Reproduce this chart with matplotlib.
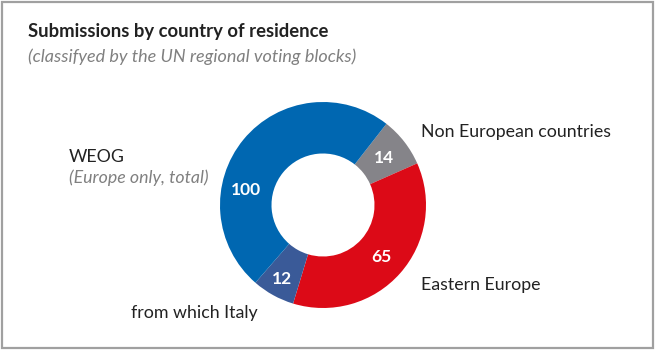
import numpy as np
import matplotlib
matplotlib.use("Agg")
import matplotlib.pyplot as plt
from matplotlib.patches import Rectangle

plt.rcParams["font.family"] = ["Lato", "DejaVu Sans"]

# data (counts of submissions)
weog_total = 100          # WEOG, Europe only, incl. Italy
italy = 12                # from which Italy
eastern = 65
non_eu = 14

values = [non_eu, eastern, italy, weog_total - italy]
colors = ["#858489", "#DC0A17", "#3A5A98", "#0067B1"]
shown = [str(non_eu), str(eastern), str(italy), str(weog_total)]

W, H = 656, 350
fig = plt.figure(figsize=(W / 100, H / 100), dpi=100)

def px(x, y):
    return x / W, 1 - y / H

# frame
fig.patches.append(Rectangle((2 / W, 2 / H), 1 - 5 / W, 1 - 4 / H,
                             transform=fig.transFigure, fill=False,
                             edgecolor="#a0a0a0", linewidth=1.6))

fig.text(*px(28, 32), "Submissions by country of residence", fontsize=13.3,
         fontweight="bold", color="#222222", va="center", ha="left")
fig.text(*px(28, 57), "(classifyed by the UN regional voting blocks)",
         fontsize=13, style="italic", color="#808080", va="center", ha="left")

cx, cy, r = 323, 205, 103
ax = fig.add_axes([(cx - r) / W, (H - cy - r) / H, 2 * r / W, 2 * r / H])
start = 52
wedges, _ = ax.pie(values, colors=colors, startangle=start, counterclock=False,
                   radius=1, wedgeprops=dict(width=0.5, linewidth=0))
ax.set_xlim(-1, 1)
ax.set_ylim(-1, 1)
ax.set_axis_off()

# value labels inside the ring
dist = [0.75, 0.76, 0.82, 0.76]
for i, w in enumerate(wedges):
    ang = np.deg2rad((w.theta1 + w.theta2) / 2)
    if i == 3:
        ang = np.deg2rad(169)
    ax.text(dist[i] * np.cos(ang), dist[i] * np.sin(ang), shown[i],
            color="white", fontsize=12.5, fontweight="bold",
            ha="center", va="center")

lab = dict(fontsize=12.8, color="#222222", va="center", ha="left")
fig.text(*px(69, 157), "WEOG", **lab)
fig.text(*px(69, 178), "(Europe only, total)", fontsize=12.8, style="italic",
         color="#808080", va="center", ha="left")
fig.text(*px(421, 132), "Non European countries", **lab)
fig.text(*px(421, 285), "Eastern Europe", **lab)
fig.text(*px(131, 313), "from which Italy", **lab)

fig.savefig("out.png", dpi=100)
